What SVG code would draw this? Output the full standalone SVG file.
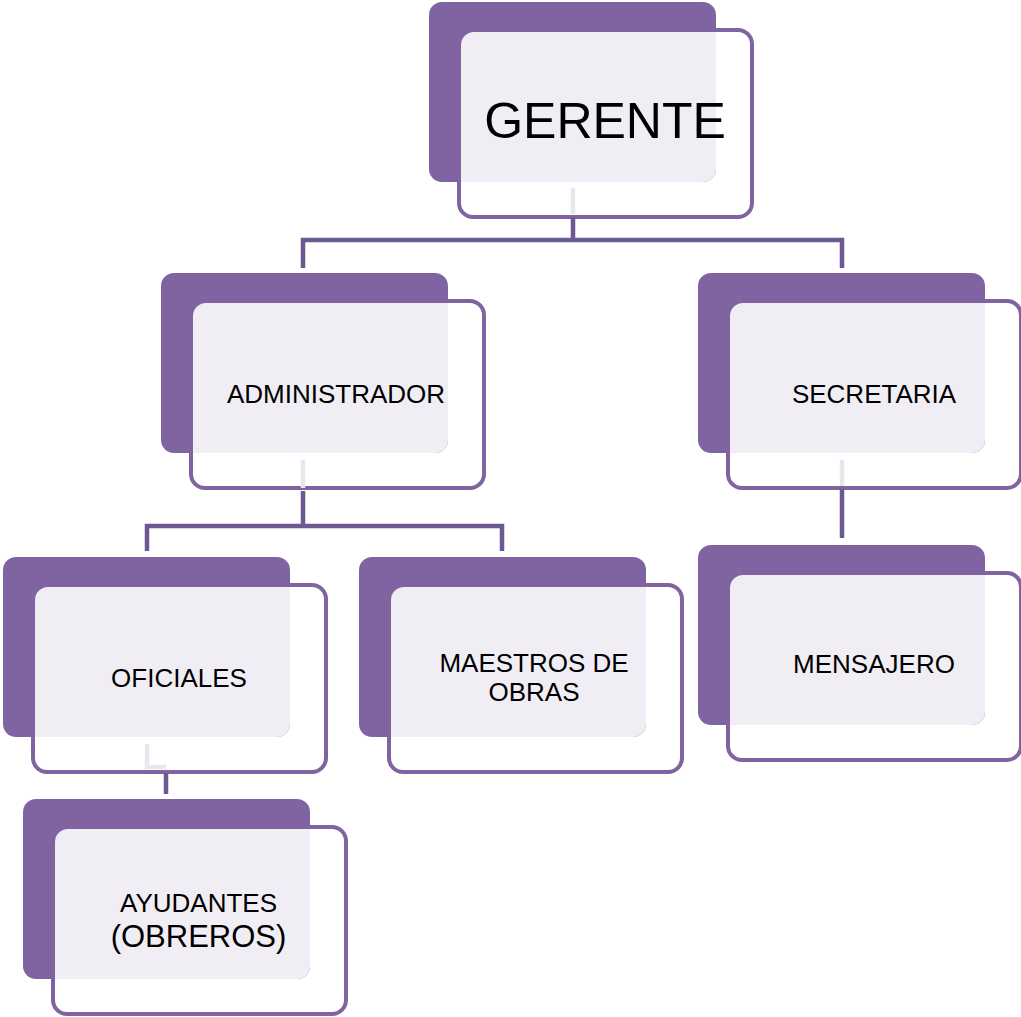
<svg xmlns="http://www.w3.org/2000/svg" xmlns:xlink="http://www.w3.org/1999/xlink" width="1021" height="1017" viewBox="0 0 1021 1017">
<style>
.back{fill:#8064a2}
.front{fill:#ffffff;stroke:#8064a2;stroke-width:4}
.inner{fill:#f0eef4}
.lbl{font-family:"Liberation Sans",Arial,sans-serif;font-size:26px;fill:#000;text-anchor:middle}
.big{font-size:50px}
.conn{fill:none;stroke:#6d5892;stroke-width:4.5}
.faint{fill:none;stroke:#e9e7ee;stroke-width:4.5}
</style>
<defs>
<g id="shape">
<rect class="front" x="30" y="28" width="293" height="187" rx="14"/>
<rect class="back" x="0" y="0" width="287" height="180" rx="13"/>
<path class="inner" d="M32,43 A13,13 0 0 1 45,30 H287 V167 A13,13 0 0 1 274,180 H32 Z"/>
</g>
</defs>
<g id="node-gerente" transform="translate(429,2)">
<use xlink:href="#shape" href="#shape"/>
<text class="lbl big" x="176" y="136">GERENTE</text>
</g>
<g id="node-administrador" transform="translate(161,273)">
<use xlink:href="#shape" href="#shape"/>
<text class="lbl" x="175" y="130">ADMINISTRADOR</text>
</g>
<g id="node-secretaria" transform="translate(698,273)">
<use xlink:href="#shape" href="#shape"/>
<text class="lbl" x="176" y="130">SECRETARIA</text>
</g>
<g id="node-oficiales" transform="translate(3,557)">
<use xlink:href="#shape" href="#shape"/>
<text class="lbl" x="176" y="130">OFICIALES</text>
</g>
<g id="node-maestros" transform="translate(359,557)">
<use xlink:href="#shape" href="#shape"/>
<text class="lbl" x="175" y="115">MAESTROS DE</text>
<text class="lbl" x="175" y="144">OBRAS</text>
</g>
<g id="node-mensajero" transform="translate(698,545)">
<use xlink:href="#shape" href="#shape"/>
<text class="lbl" x="176" y="128">MENSAJERO</text>
</g>
<g id="node-ayudantes" transform="translate(23,799)">
<use xlink:href="#shape" href="#shape"/>
<text class="lbl" x="175.5" y="113">AYUDANTES</text>
<text class="lbl" x="175.5" y="148" style="font-size:31px">(OBREROS)</text>
</g>
<g id="connectors">
<path class="faint" d="M573,188 V214"/>
<path class="conn" d="M573,217 V240 M303,268 V240 H842 V268"/>
<path class="faint" d="M303,460 V488"/>
<path class="conn" d="M303,491 V526 M147,551 V526 H502 V551"/>
<path class="faint" d="M842,460 V486"/>
<path class="conn" d="M842,489 V538"/>
<path class="faint" d="M147,744 V767 H166"/>
<path class="conn" d="M166,773 V794"/>
</g>
</svg>
